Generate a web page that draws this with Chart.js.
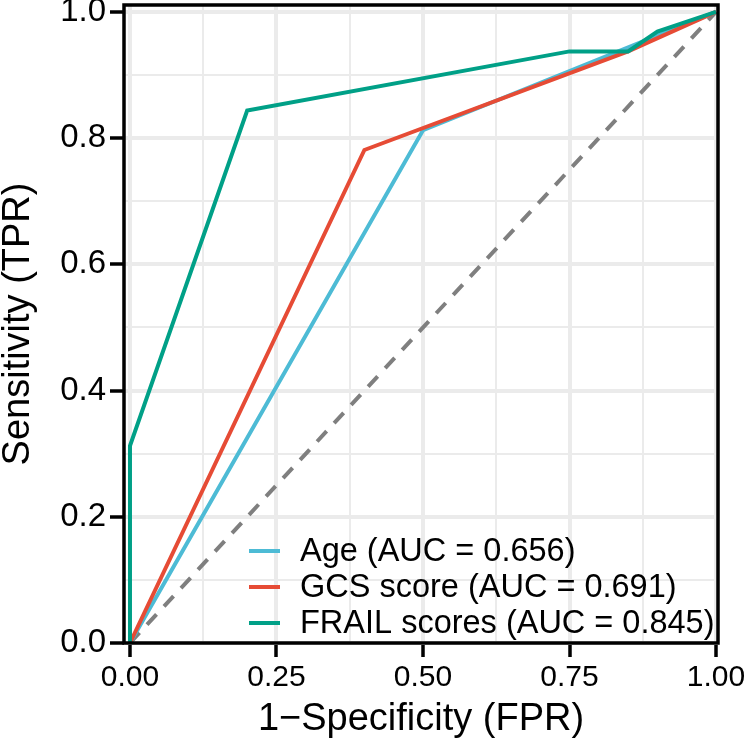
<!DOCTYPE html>
<html>
<head>
<meta charset="utf-8">
<script src="https://cdn.jsdelivr.net/npm/chart.js@4/dist/chart.umd.min.js"></script>
<style>
  html, body { margin: 0; padding: 0; background: #fff; }
  #wrap { width: 750px; height: 750px; }
</style>
</head>
<body>
<div id="wrap"><canvas id="roc" width="750" height="750"></canvas></div>
<script>
// ROC curves
var ageFpr = [0, 0.5, 1];
var ageTpr = [0, 0.8125, 1];
var gcsFpr = [0, 0.4, 0.85, 1];
var gcsTpr = [0, 0.78125, 0.9375, 1];
var frailFpr = [0, 0, 0.2, 0.75, 0.85, 0.9, 1];
var frailTpr = [0, 0.3125, 0.84375, 0.9375, 0.9375, 0.96875, 1];
var refFpr = [0, 1];
var refTpr = [0, 1];

var seriesNames = ['Age (AUC = 0.656)', 'GCS score (AUC = 0.691)', 'FRAIL scores (AUC = 0.845)'];

// axis ticks (major get labels, minor only grid)
var xMajor = [0, 0.25, 0.5, 0.75, 1];
var xMinor = [0.125, 0.375, 0.625, 0.875];
var yMajor = [0, 0.2, 0.4, 0.6, 0.8, 1];
var yMinor = [0.1, 0.3, 0.5, 0.7, 0.9];

function pts(xs, ys) {
  return xs.map(function (x, i) { return { x: x, y: ys[i] }; });
}
function isMajor(list, v) {
  return list.some(function (m) { return Math.abs(m - v) < 1e-6; });
}
function tickList(major, minor) {
  return major.concat(minor).sort(function (a, b) { return a - b; })
    .map(function (v) { return { value: v }; });
}

var FONT = '"Liberation Sans", Arial, Helvetica, sans-serif';

var panelBorder = {
  id: 'panelBorder',
  afterDatasetsDraw: function (chart) {
    var a = chart.chartArea, c = chart.ctx;
    c.save();
    c.strokeStyle = '#000';
    c.lineWidth = 3.5;
    c.strokeRect(a.left, a.top, a.right - a.left, a.bottom - a.top);
    c.restore();
  }
};

var insideLegend = {
  id: 'insideLegend',
  afterDraw: function (chart) {
    var c = chart.ctx, a = chart.chartArea;
    var ds = chart.data.datasets.filter(function (d) { return d.label; });
    c.save();
    c.font = '32.5px ' + FONT;
    c.textBaseline = 'middle';
    c.fillStyle = '#000';
    ds.forEach(function (d, i) {
      var y = a.bottom - 20 - (ds.length - 1 - i) * 36;
      c.strokeStyle = d.borderColor;
      c.lineWidth = 4;
      c.beginPath();
      c.moveTo(249, y);
      c.lineTo(280, y);
      c.stroke();
      c.fillText(d.label, 300, y + 1);
    });
    c.restore();
  }
};

var ctx = document.getElementById('roc').getContext('2d');
var chart = new Chart(ctx, {
  type: 'scatter',
  data: {
    datasets: [
      { label: seriesNames[0], data: pts(ageFpr, ageTpr), borderColor: '#4DBBD5', order: 3 },
      { label: seriesNames[1], data: pts(gcsFpr, gcsTpr), borderColor: '#E64B35', order: 2 },
      { label: seriesNames[2], data: pts(frailFpr, frailTpr), borderColor: '#00A087', order: 1 },
      { label: '', data: pts(refFpr, refTpr), borderColor: '#7F7F7F', borderDash: [14, 11], order: 4 }
    ].map(function (d) {
      d.showLine = true;
      d.pointRadius = 0;
      d.pointHoverRadius = 0;
      d.borderWidth = 4;
      d.tension = 0;
      d.backgroundColor = d.borderColor;
      return d;
    })
  },
  options: {
    responsive: false,
    animation: false,
    events: [],
    layout: { padding: { top: 5, right: 32, left: 0, bottom: 0 } },
    plugins: { legend: { display: false }, tooltip: { enabled: false } },
    scales: {
      x: {
        type: 'linear',
        min: -0.0102,
        max: 1.0034,
        afterBuildTicks: function (s) { s.ticks = tickList(xMajor, xMinor); },
        afterFit: function (s) { s.height = 107; s.paddingLeft = 0; s.paddingRight = 0; },
        border: { display: false },
        grid: {
          color: '#EBEBEB',
          lineWidth: function (c) { return c.tick && isMajor(xMajor, c.tick.value) ? 4 : 2; },
          tickColor: function (c) { return c.tick && isMajor(xMajor, c.tick.value) ? '#000' : 'rgba(0,0,0,0)'; },
          tickLength: 14,
          tickWidth: 3.5
        },
        ticks: {
          autoSkip: false,
          maxRotation: 0,
          padding: 3,
          color: '#000',
          font: { family: FONT, size: 30 },
          callback: function (v) { return isMajor(xMajor, v) ? v.toFixed(2) : ''; }
        },
        title: {
          display: true,
          text: '1\u2212Specificity (FPR)',
          color: '#000',
          font: { family: FONT, size: 38, lineHeight: 1 },
          padding: { top: 0, bottom: 11 }
        }
      },
      y: {
        type: 'linear',
        min: 0,
        max: 1.011,
        afterBuildTicks: function (s) { s.ticks = tickList(yMajor, yMinor); },
        afterFit: function (s) { s.width = 124; s.paddingTop = 0; s.paddingBottom = 0; },
        border: { display: false },
        grid: {
          color: '#EBEBEB',
          lineWidth: function (c) { return c.tick && isMajor(yMajor, c.tick.value) ? 4 : 2; },
          tickColor: function (c) { return c.tick && isMajor(yMajor, c.tick.value) ? '#000' : 'rgba(0,0,0,0)'; },
          tickLength: 14,
          tickWidth: 3.5
        },
        ticks: {
          autoSkip: false,
          padding: 4,
          color: '#000',
          font: { family: FONT, size: 33 },
          callback: function (v) { return isMajor(yMajor, v) ? v.toFixed(1) : ''; }
        },
        title: {
          display: true,
          text: 'Sensitivity (TPR)',
          color: '#000',
          font: { family: FONT, size: 38, lineHeight: 1 },
          padding: { top: 0, bottom: 0 }
        }
      }
    }
  },
  plugins: [panelBorder, insideLegend]
});
</script>
</body>
</html>
